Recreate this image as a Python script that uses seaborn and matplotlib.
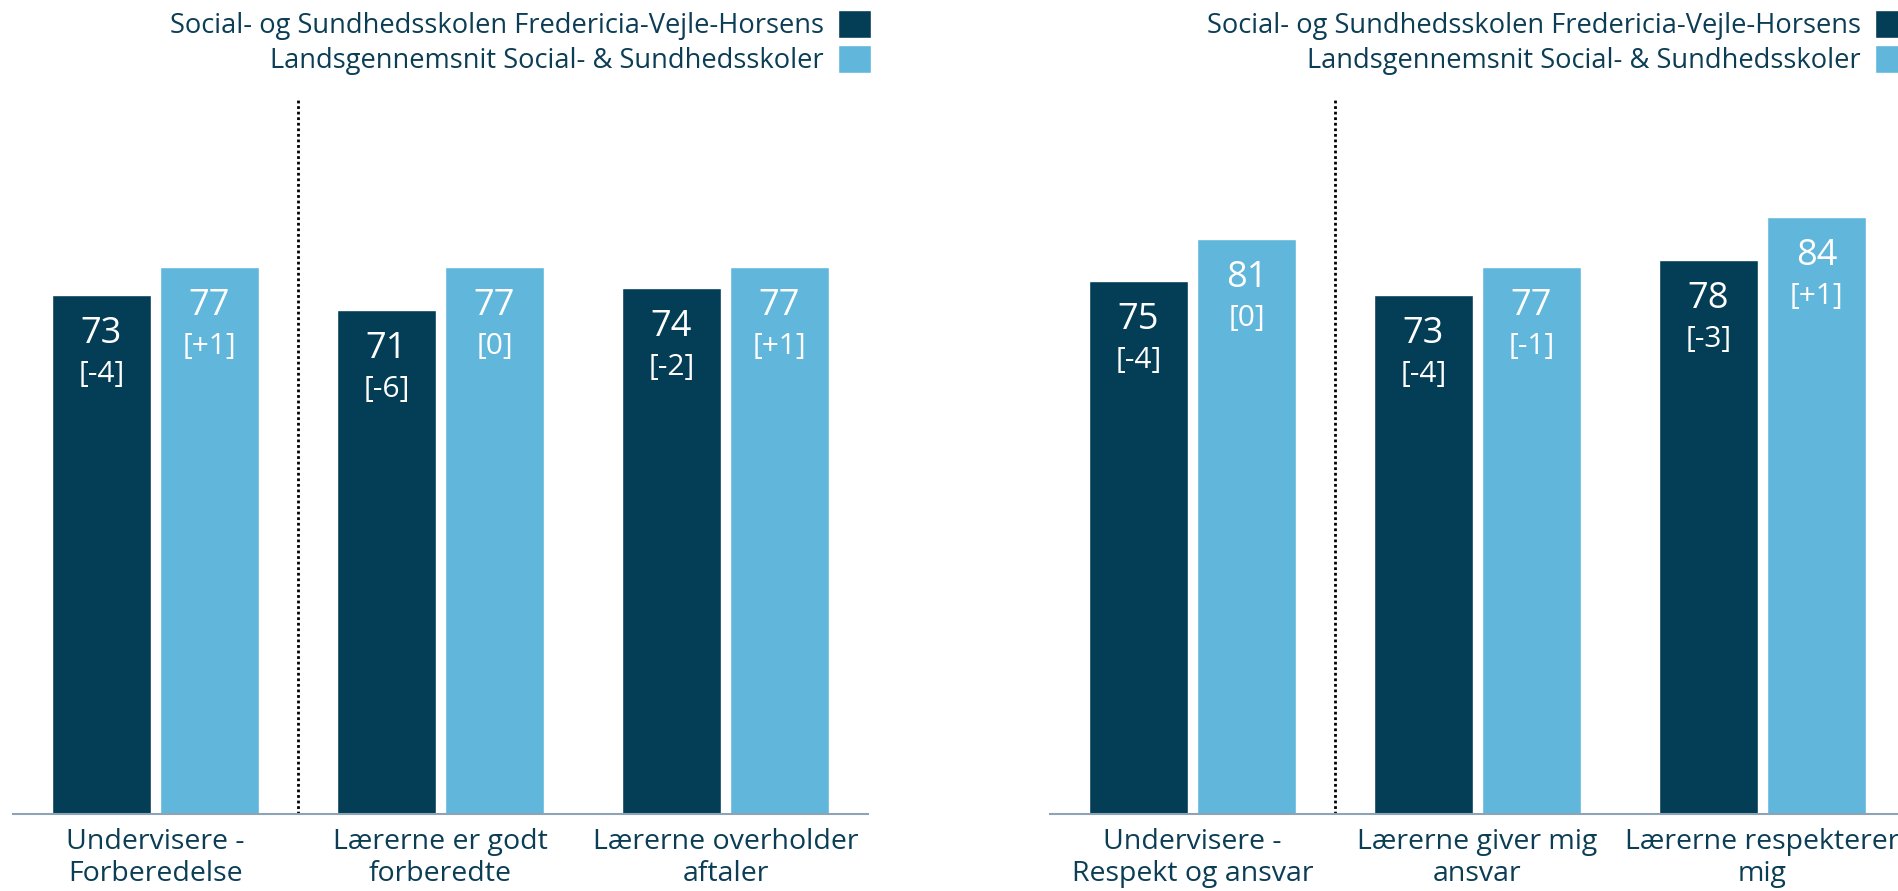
import pandas as pd
import seaborn as sns
import matplotlib.pyplot as plt

# data
series = ["Social- og Sundhedsskolen Fredericia-Vejle-Horsens",
          "Landsgennemsnit Social- & Sundhedsskoler"]

cats_left = ["Undervisere -\nForberedelse", "Lærerne er godt\nforberedte", "Lærerne overholder\naftaler"]
school_left = [73, 71, 74]
school_left_diff = ["[-4]", "[-6]", "[-2]"]
national_left = [77, 77, 77]
national_left_diff = ["[+1]", "[0]", "[+1]"]

cats_right = ["Undervisere -\nRespekt og ansvar", "Lærerne giver mig\nansvar", "Lærerne respekterer\nmig"]
school_right = [75, 73, 78]
school_right_diff = ["[-4]", "[-4]", "[-3]"]
national_right = [81, 77, 84]
national_right_diff = ["[0]", "[-1]", "[+1]"]

DARK = "#033E56"
LIGHT = "#60B6DB"
TEXT = "#0B3D55"

sns.set_style("white")
plt.rcParams["font.family"] = ["Open Sans", "DejaVu Sans"]

fig = plt.figure(figsize=(18.99, 8.91), dpi=100)
W, H = 1899, 891
ax1 = fig.add_axes([13 / W, 77 / H, 855 / W, 716 / H])
ax2 = fig.add_axes([1050 / W, 77 / H, 855 / W, 716 / H])


def panel(ax, cats, school, school_diff, national, national_diff):
    df = pd.DataFrame({
        "category": cats * 2,
        "series": [series[0]] * len(cats) + [series[1]] * len(cats),
        "value": school + national,
    })
    sns.barplot(data=df, x="category", y="value", hue="series", hue_order=series,
                palette=[DARK, LIGHT], width=0.758, gap=0.083, saturation=1,
                errorbar=None, ax=ax)
    for cont, vals, diffs in zip(ax.containers, [school, national], [school_diff, national_diff]):
        for bar, v, d in zip(cont, vals, diffs):
            x = bar.get_x() + bar.get_width() / 2
            h = bar.get_height()
            ax.annotate(str(v), (x, h), xytext=(0, -48), textcoords="offset pixels",
                        ha="center", va="baseline", color="white", fontsize=26)
            ax.annotate(d, (x, h), xytext=(0, -87), textcoords="offset pixels",
                        ha="center", va="baseline", color="white", fontsize=21.5)
    ax.axvline(0.5, ymin=0, ymax=1, color="black", lw=2, ls=(0, (1, 1)))
    ax.set_xlim(-0.5, 2.5)
    ax.set_ylim(0, 100.8)
    ax.set_yticks([])
    ax.set_xlabel("")
    ax.set_ylabel("")
    for s in ["top", "left", "right"]:
        ax.spines[s].set_visible(False)
    ax.spines["bottom"].set_color("#8EA3B5")
    ax.spines["bottom"].set_linewidth(1.5)
    ax.tick_params(axis="x", length=0, pad=10, labelsize=20.5, labelcolor=TEXT)
    for t in ax.get_xticklabels():
        t.set_linespacing(1.18)
    sns.move_legend(ax, "upper right", bbox_to_anchor=(1.0035, 1.1229),
                    bbox_transform=ax.transAxes, title=None, frameon=False,
                    markerfirst=False, fontsize=19.6, labelcolor=TEXT,
                    handlelength=1.2, handleheight=1.21, handletextpad=0.54,
                    labelspacing=0.18, borderpad=0, borderaxespad=0)


panel(ax1, cats_left, school_left, school_left_diff, national_left, national_left_diff)
panel(ax2, cats_right, school_right, school_right_diff, national_right, national_right_diff)

fig.savefig("out.png", dpi=100)
